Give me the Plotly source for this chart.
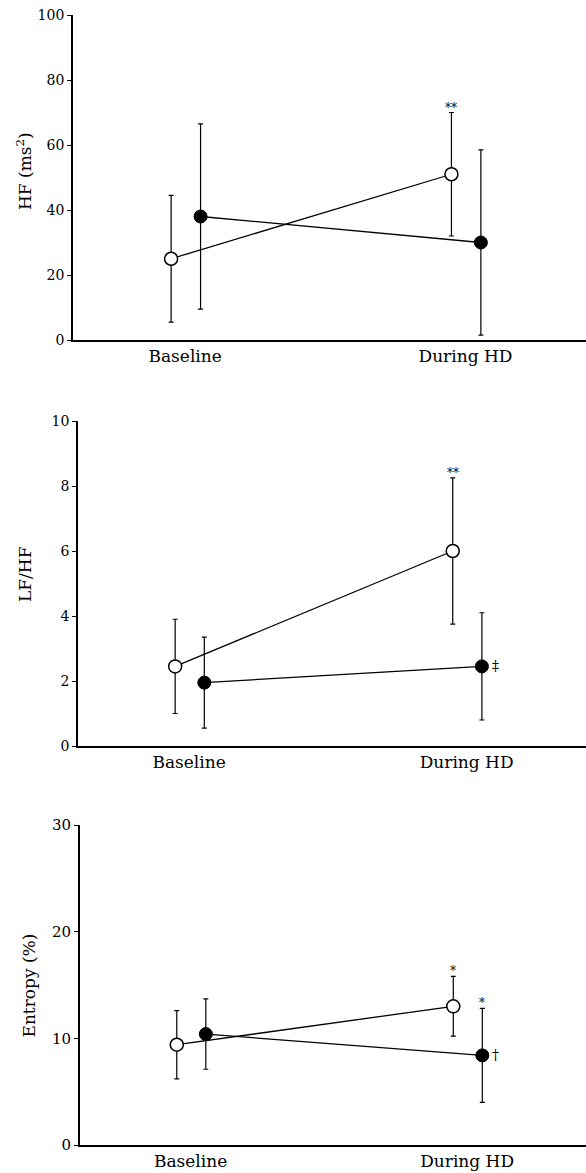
import plotly.graph_objects as go

categories = ["Baseline", "During HD"]

# Panel 1: HF (ms^2)
hf_open = [25.0, 51.0]
hf_open_err = [19.5, 19.0]
hf_filled = [38.0, 30.0]
hf_filled_err = [28.5, 28.5]
hf_ticks = [0, 20, 40, 60, 80, 100]

# Panel 2: LF/HF
lfhf_open = [2.45, 6.0]
lfhf_open_err = [1.45, 2.25]
lfhf_filled = [1.95, 2.45]
lfhf_filled_err = [1.4, 1.65]
lfhf_ticks = [0, 2, 4, 6, 8, 10]

# Panel 3: Entropy (%)
ent_open = [9.4, 13.0]
ent_open_err = [3.2, 2.8]
ent_filled = [10.4, 8.4]
ent_filled_err = [3.3, 4.4]
ent_ticks = [0, 10, 20, 30]

panels = [
    dict(open=hf_open, open_err=hf_open_err, filled=hf_filled, filled_err=hf_filled_err,
         ticks=hf_ticks, yrange=[0, 100], title="HF (ms<sup>2</sup>)",
         open_marks=[None, "**"], filled_top=[None, None], filled_side=[None, None]),
    dict(open=lfhf_open, open_err=lfhf_open_err, filled=lfhf_filled, filled_err=lfhf_filled_err,
         ticks=lfhf_ticks, yrange=[0, 10], title="LF/HF",
         open_marks=[None, "**"], filled_top=[None, None], filled_side=[None, "‡"]),
    dict(open=ent_open, open_err=ent_open_err, filled=ent_filled, filled_err=ent_filled_err,
         ticks=ent_ticks, yrange=[0, 30], title="Entropy (%)",
         open_marks=[None, "*"], filled_top=[None, "*"], filled_side=[None, "†"]),
]

W, H = 586, 1173
# pixel layout (top, bottom) for each panel, and left axis x
px_y = [(15, 340), (421, 746), (825, 1145)]
px_x = [73, 78, 80]
title_y = [171, 574, 986]
title_x = [24, 25, 28.5]
ytick_size = [14, 14, 15]

OPEN_OFF = -0.05
FILLED_OFF = 0.055
XR = [-0.4, 1.43]
FONT = "DejaVu Serif"

fig = go.Figure()
layout_axes = {}
annotations = []

for i, p in enumerate(panels):
    n = i + 1
    xa = "x" if n == 1 else f"x{n}"
    ya = "y" if n == 1 else f"y{n}"
    xs = list(range(len(categories)))
    x_open = [x + OPEN_OFF for x in xs]
    x_filled = [x + FILLED_OFF for x in xs]

    errstyle = dict(type="data", visible=True, color="black", thickness=1.2, width=2.5)

    fig.add_trace(go.Scatter(
        x=x_filled, y=p["filled"], xaxis=xa, yaxis=ya, mode="lines+markers",
        line=dict(color="black", width=1.3),
        marker=dict(size=13, color="black", line=dict(color="black", width=1)),
        error_y=dict(array=p["filled_err"], **errstyle), showlegend=False, hoverinfo="skip"))
    fig.add_trace(go.Scatter(
        x=x_open, y=p["open"], xaxis=xa, yaxis=ya, mode="lines+markers",
        line=dict(color="black", width=1.3),
        marker=dict(size=13, color="white", line=dict(color="black", width=1.5)),
        error_y=dict(array=p["open_err"], **errstyle), showlegend=False, hoverinfo="skip"))

    top, bot = px_y[i]
    dom_y = [1 - bot / H, 1 - top / H]
    dom_x = [px_x[i] / W, 1.0]
    axis_key_x = "xaxis" if n == 1 else f"xaxis{n}"
    axis_key_y = "yaxis" if n == 1 else f"yaxis{n}"
    layout_axes[axis_key_x] = dict(
        domain=dom_x, range=XR, anchor=ya, showgrid=False, zeroline=False,
        showline=True, linecolor="black", linewidth=1.8, ticks="",
        tickvals=xs, ticktext=categories, tickfont=dict(family=FONT, size=17, color="black"),
        automargin=False, fixedrange=True)
    layout_axes[axis_key_y] = dict(
        domain=dom_y, range=p["yrange"], anchor=xa, showgrid=False, zeroline=False,
        showline=True, linecolor="black", linewidth=1.8, ticks="outside", ticklen=4,
        tickcolor="black", tickwidth=1.2, tickvals=p["ticks"],
        tickfont=dict(family=FONT, size=ytick_size[i], color="black"),
        automargin=False, fixedrange=True)

    annotations.append(dict(
        text=p["title"], xref="paper", yref="paper", x=title_x[i] / W, y=1 - title_y[i] / H,
        textangle=-90, showarrow=False, xanchor="center", yanchor="middle",
        font=dict(family=FONT, size=17, color="black")))

    for j in range(len(categories)):
        if p["open_marks"][j]:
            annotations.append(dict(
                text=p["open_marks"][j], xref=xa, yref=ya, x=x_open[j],
                y=p["open"][j] + p["open_err"][j], showarrow=False, yanchor="bottom",
                xanchor="center", yshift=-4, font=dict(family=FONT, size=12, color="black")))
        if p["filled_top"][j]:
            annotations.append(dict(
                text=p["filled_top"][j], xref=xa, yref=ya, x=x_filled[j],
                y=p["filled"][j] + p["filled_err"][j], showarrow=False, yanchor="bottom",
                xanchor="center", yshift=-4, font=dict(family=FONT, size=12, color="black")))
        if p["filled_side"][j]:
            annotations.append(dict(
                text=p["filled_side"][j], xref=xa, yref=ya, x=x_filled[j],
                y=p["filled"][j], showarrow=False, yanchor="middle",
                xanchor="left", xshift=8, font=dict(family=FONT, size=14, color="black")))

fig.update_layout(
    width=W, height=H, margin=dict(l=0, r=0, t=0, b=0),
    paper_bgcolor="white", plot_bgcolor="white", showlegend=False,
    font=dict(family=FONT, color="black"),
    annotations=annotations, hovermode=False, **layout_axes)

fig.write_html("out.html")
